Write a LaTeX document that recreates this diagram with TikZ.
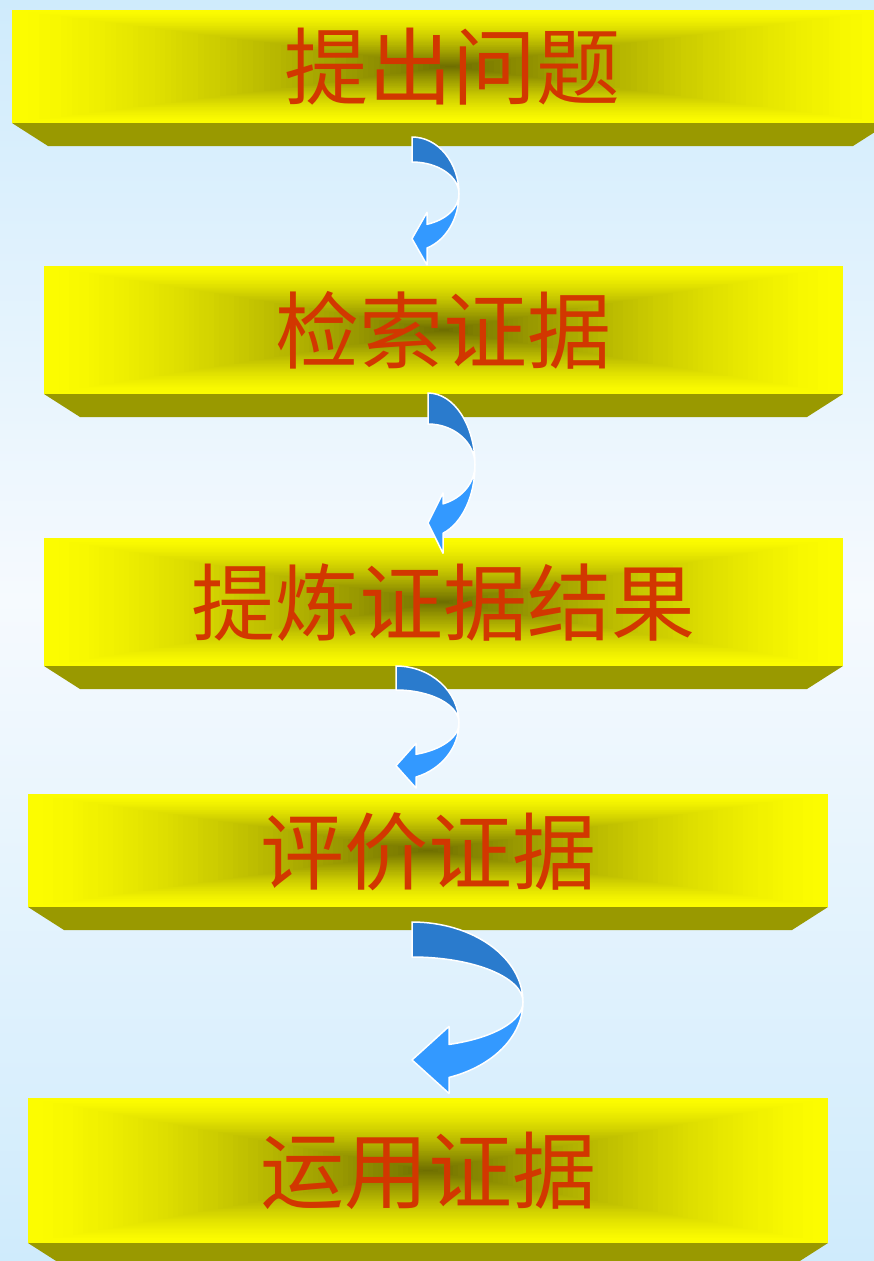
\documentclass[tikz,border=0pt]{standalone}
\usepackage{fontspec}
\newfontfamily\cjk{Noto Sans CJK SC}
\definecolor{bgblue}{RGB}{207,235,252}
\definecolor{bgwhite}{RGB}{246,250,254}
\definecolor{faceout}{RGB}{252,252,0}
\definecolor{facein}{RGB}{108,108,0}
\definecolor{bevelc}{RGB}{153,153,0}
\definecolor{txtred}{RGB}{210,55,0}
\definecolor{arrdark}{RGB}{42,123,205}
\definecolor{arrlight}{RGB}{51,153,255}
\tikzset{
  lbl/.style={font=\cjk\fontsize{84}{84}\selectfont, text=txtred, inner sep=0pt},
  arrpart/.style={draw=white, line width=1.5pt, line join=round}
}
% face with rectangular path gradient + bottom bevel; args: x1 y1 x2 y2 (image coords, y down)
\newcommand\facebox[4]{%
  \pgfmathsetmacro\fcx{(#1+#3)/2}%
  \pgfmathsetmacro\fcy{(#2+#4)/2}%
  \pgfmathsetmacro\fhw{(#3-#1)/2}%
  \pgfmathsetmacro\fhh{(#4-#2)/2}%
  \fill[bevelc] (#1,-#4) -- (#3,-#4) -- (#3-36,-#4-23) -- (#1+36,-#4-23) -- cycle;
  \foreach \i in {0,...,79}{%
    \pgfmathsetmacro\ff{\i/80}%
    \pgfmathtruncatemacro\pp{100*\ff^1.4}%
    \pgfmathsetmacro\ss{1-\ff}%
    \fill[facein!\pp!faceout] (\fcx-\fhw*\ss,-\fcy+\fhh*\ss) rectangle (\fcx+\fhw*\ss,-\fcy-\fhh*\ss);
  }%
}
% bent arrow; args: x0 cy rx Ro Ri xb e1 e2
\newcommand\bentarrow[8]{%
  \pgfmathsetmacro\ta{acos((#6-#1)/#3)}%
  \pgfmathsetmacro\yo{-#2-#4*sin(\ta)}%
  \pgfmathsetmacro\yi{-#2-#5*sin(\ta)}%
  \pgfmathsetmacro\yt{(\yo-#8+\yi+#7)/2}%
  \path[fill=arrdark, arrpart] (#1,-#2+#4) arc[start angle=90,end angle=0,x radius=#3pt,y radius=#4pt]
     arc[start angle=0,end angle=90,x radius=#3pt,y radius=#5pt] -- cycle;
  \path[fill=arrlight, arrpart] (#1+#3,-#2) arc[start angle=0,end angle=-\ta,x radius=#3pt,y radius=#4pt]
     -- (#6,\yo-#8) -- (#1,\yt) -- (#6,\yi+#7) -- (#6,\yi)
     arc[start angle=-\ta,end angle=0,x radius=#3pt,y radius=#5pt] -- cycle;
}
\begin{document}
\begin{tikzpicture}[x=1pt,y=1pt]
\useasboundingbox (0,0) rectangle (874,-1261);
\clip (0,0) rectangle (874,-1261);
\fill[top color=bgblue, bottom color=bgwhite] (0,0) rectangle (874,-600);
\fill[top color=bgwhite, bottom color=bgblue] (0,-600) rectangle (874,-1261);

\facebox{12}{10}{889}{123}
\facebox{44}{266}{843}{394}
\facebox{44}{538}{843}{666}
\facebox{28}{794}{828}{907}
\facebox{28}{1098}{828}{1243}

\node[lbl] (t1) at (452,-67) {提出问题};
\node[lbl] (t2) at (443,-330) {检索证据};
\node[lbl] (t3) at (443,-603) {提炼证据结果};
\node[lbl] (t4) at (428,-852) {评价证据};
\node[lbl] (t5) at (428,-1171) {运用证据};

\bentarrow{412}{194}{47}{57}{32}{427}{12}{17}
\bentarrow{428}{465}{47}{72}{41}{443}{11}{20}
\bentarrow{396}{723}{63}{57}{33}{416}{11}{11}
\bentarrow{412}{1002}{111}{80}{45}{449}{18}{16}
\end{tikzpicture}
\end{document}
